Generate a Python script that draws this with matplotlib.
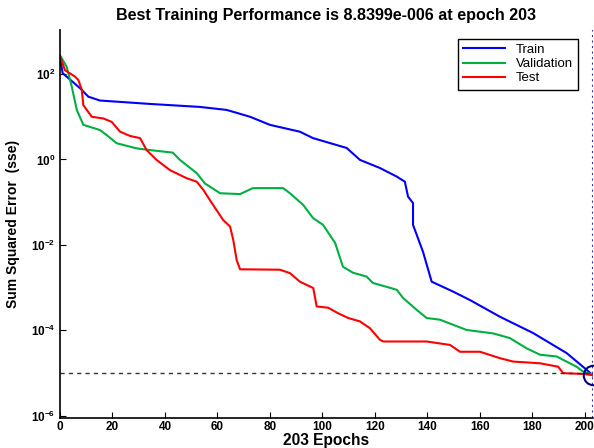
import numpy as np
from matplotlib import pyplot as plt

plt.rcParams['font.family'] = ['Liberation Sans', 'DejaVu Sans']

# training record (epoch, log10 of sse)
train_ep = [0, 1, 7.6, 10.8, 15.2, 34.3, 53.3, 63.5, 72.4, 80, 91.4, 96.4, 109.2,
            114.3, 121.9, 128.3, 131.4, 132.6, 134.5, 134.5, 138.3, 141.6, 149.7,
            156.2, 167.6, 180.2, 193, 200.6, 203]
train_log = [2.42, 2.02, 1.67, 1.47, 1.38, 1.30, 1.23, 1.16, 1.00, 0.81, 0.65, 0.50, 0.27,
             -0.01, -0.20, -0.40, -0.52, -0.87, -1.02, -1.53, -2.16, -2.86, -3.09,
             -3.29, -3.68, -4.06, -4.53, -4.92, -5.054]

val_ep = [0, 2.55, 4.5, 6.4, 8.9, 15.2, 17.8, 21.6, 29.2, 34.3, 43.0, 45.7, 52.1,
          55.2, 61, 68.6, 73.5, 85, 87.6, 92.6, 96.4, 100.2, 104.8, 107.8, 111.6,
          116.8, 119.2, 124.4, 128.3, 130.7, 135.9, 139.7, 144.8, 154.9, 165, 171.4,
          177.8, 182.9, 189.2, 193, 196.8, 199.2, 202, 203]
val_log = [2.44, 2.17, 1.70, 1.16, 0.81, 0.69, 0.57, 0.38, 0.26, 0.22, 0.16, -0.01, -0.32,
           -0.56, -0.79, -0.81, -0.67, -0.67, -0.79, -1.06, -1.37, -1.53, -1.95, -2.51, -2.65,
           -2.74, -2.89, -2.98, -3.05, -3.24, -3.52, -3.71, -3.75, -3.99, -4.07, -4.18,
           -4.42, -4.57, -4.61, -4.73, -4.85, -4.96, -5.02, -5.02]

test_ep = [0, 1.9, 5.7, 7, 8.3, 8.9, 12.1, 16.5, 19.7, 22.9, 26.7, 30.5, 33, 36.8,
           41.9, 48.3, 52.1, 54.6, 57.1, 62.2, 64.8, 66, 67.3, 68.6, 83.8, 87.6, 91.4,
           96.5, 97.8, 102.2, 106, 109.8, 114.3, 118.1, 121.9, 123.2, 139.7, 148.6,
           152.4, 160, 167.6, 172.7, 182.9, 189.8, 191.7, 199.3, 201.9, 203]
test_log = [2.42, 2.09, 1.94, 1.86, 1.63, 1.27, 1.00, 0.96, 0.88, 0.65, 0.55, 0.50, 0.22, -0.01,
            -0.25, -0.44, -0.52, -0.71, -0.95, -1.42, -1.57, -1.88, -2.35, -2.57, -2.58, -2.66, -2.86,
            -3.01, -3.44, -3.47, -3.60, -3.71, -3.79, -3.95, -4.22, -4.26, -4.26, -4.34,
            -4.50, -4.50, -4.65, -4.73, -4.77, -4.85, -5.00, -5.02, -5.04, -5.05]

best_epoch = 203
best_perf = 8.8399e-6
goal = 1e-5

fig = plt.figure(figsize=(5.94, 4.48), dpi=100)
ax = fig.add_axes([0.101, 0.067, 0.897, 0.866])

ax.semilogy(train_ep, 10 ** np.array(train_log), color='#0000ff', lw=1.5, label='Train')
ax.semilogy(val_ep, 10 ** np.array(val_log), color='#00b040', lw=1.5, label='Validation')
ax.semilogy(test_ep, 10 ** np.array(test_log), color='#ff0000', lw=1.5, label='Test')

ax.axhline(goal, color='#333333', ls='--', lw=1, dashes=(3, 3))
ax.axvline(best_epoch, color='#3030c0', ls=':', lw=1.5)
ax.plot(best_epoch, best_perf, 'o', ms=14, mfc='none', mec='#000090', mew=1.5)

ax.set_xlim(0, 203)
ax.set_ylim(10 ** -6.05, 10 ** 3.03)
ax.set_xticks(range(0, 201, 20))
ax.set_yticks([1e-6, 1e-4, 1e-2, 1e0, 1e2])
ax.yaxis.set_minor_locator(plt.NullLocator())
ax.tick_params(direction='in', labelsize=8.5, length=4)
ax.tick_params(axis='x', pad=2)
for lab in ax.get_xticklabels() + ax.get_yticklabels():
    lab.set_fontweight('bold')
ax.spines['top'].set_visible(False)
ax.spines['right'].set_visible(False)
ax.spines['left'].set_linewidth(1.2)
ax.spines['bottom'].set_linewidth(1.2)

ax.set_title('Best Training Performance is 8.8399e-006 at epoch 203',
             fontsize=11.6, fontweight='bold', pad=7)
ax.set_xlabel('203 Epochs', fontsize=11.2, fontweight='bold', labelpad=0)
ax.set_ylabel('Sum Squared Error  (sse)', fontsize=10, fontweight='bold', labelpad=8)

leg = ax.legend(loc='upper right', bbox_to_anchor=(0.985, 0.995), fontsize=9.5,
                fancybox=False, edgecolor='black', framealpha=1,
                handlelength=3.2, borderpad=0.4, labelspacing=0.15)
leg.get_frame().set_linewidth(1)

plt.savefig('out.png')
